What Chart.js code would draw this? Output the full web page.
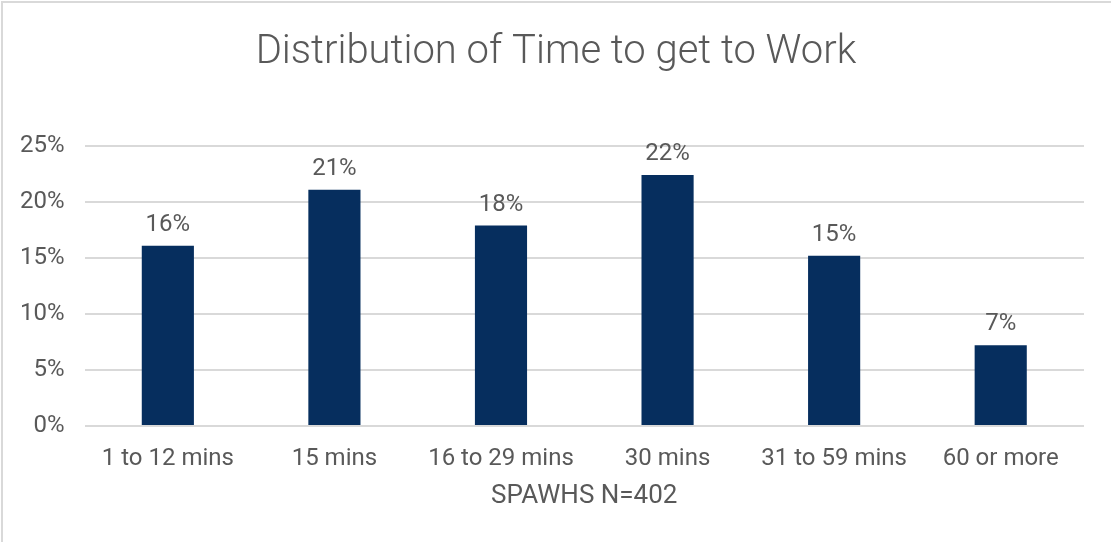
<!DOCTYPE html>
<html>
<head>
<meta charset="utf-8">
<script src="https://cdn.jsdelivr.net/npm/chart.js@4/dist/chart.umd.min.js"></script>
<style>
  html, body { margin: 0; padding: 0; background: #ffffff; }
  #wrap { position: relative; width: 1111px; height: 542px; overflow: hidden; }
  #frame { position: absolute; left: 1px; top: 1px; width: 1200px; height: 700px;
           border-left: 2px solid #d9d9d9; border-top: 2px solid #d9d9d9; box-sizing: border-box; }
  canvas { position: absolute; left: 0; top: 0; }
</style>
</head>
<body>
<div id="wrap">
  <div id="frame"></div>
  <canvas id="c" width="1111" height="542"></canvas>
</div>
<script>
const categories = ["1 to 12 mins", "15 mins", "16 to 29 mins", "30 mins", "31 to 59 mins", "60 or more"];
const shareValues = [16.1, 21.1, 17.9, 22.4, 15.2, 7.2];
const yTickValues = [0, 5, 10, 15, 20, 25];
const chartTitle = "Distribution of Time to get to Work";
const xAxisTitle = "SPAWHS N=402";

const textGray = "#595959";
const barColor = "#062e5e";

const barLabels = {
  id: "barLabels",
  afterDatasetsDraw(chart) {
    const ctx = chart.ctx;
    const meta = chart.getDatasetMeta(0);
    ctx.save();
    ctx.font = "24px Roboto";
    ctx.fillStyle = textGray;
    ctx.textAlign = "center";
    ctx.textBaseline = "alphabetic";
    meta.data.forEach((el, i) => {
      const v = chart.data.datasets[0].data[i];
      ctx.fillText(Math.round(v) + "%", el.x, el.y - 15);
    });
    ctx.restore();
  }
};

// let the y tick labels use the left padding instead of being clipped
const widenYLabelArea = {
  id: "widenYLabelArea",
  afterLayout(chart) { chart.scales.y.left = 0; }
};

new Chart(document.getElementById("c"), {
  type: "bar",
  data: {
    labels: categories,
    datasets: [{
      data: shareValues,
      backgroundColor: barColor,
      borderWidth: 0,
      categoryPercentage: 1,
      barPercentage: 0.313
    }]
  },
  options: {
    responsive: false,
    animation: false,
    devicePixelRatio: 1,
    layout: { padding: { left: 28, right: 27, top: 0, bottom: 30 } },
    plugins: {
      legend: { display: false },
      tooltip: { enabled: false },
      title: {
        display: true,
        text: chartTitle,
        color: textGray,
        font: { family: "Roboto", size: 40, weight: 300 },
        padding: { top: 29, bottom: 69 }
      }
    },
    scales: {
      x: {
        grid: { display: false, drawTicks: false },
        border: { display: false },
        ticks: { color: textGray, font: { family: "Roboto", size: 24 }, padding: 19, maxRotation: 0 },
        title: {
          display: true,
          text: xAxisTitle,
          color: textGray,
          font: { family: "Roboto", size: 26 },
          padding: { top: -12, bottom: 0 }
        }
      },
      y: {
        min: 0,
        max: 25,
        afterBuildTicks(axis) { axis.ticks = yTickValues.map(v => ({ value: v })); },
        afterFit(axis) { axis.width -= 28; },
        grid: { color: "#d9d9d9", lineWidth: 2, drawTicks: false },
        border: { display: false },
        ticks: {
          color: textGray,
          font: { family: "Roboto", size: 24 },
          padding: 20,
          callback: v => v + "%"
        }
      }
    }
  },
  plugins: [barLabels, widenYLabelArea]
});
</script>
</body>
</html>
